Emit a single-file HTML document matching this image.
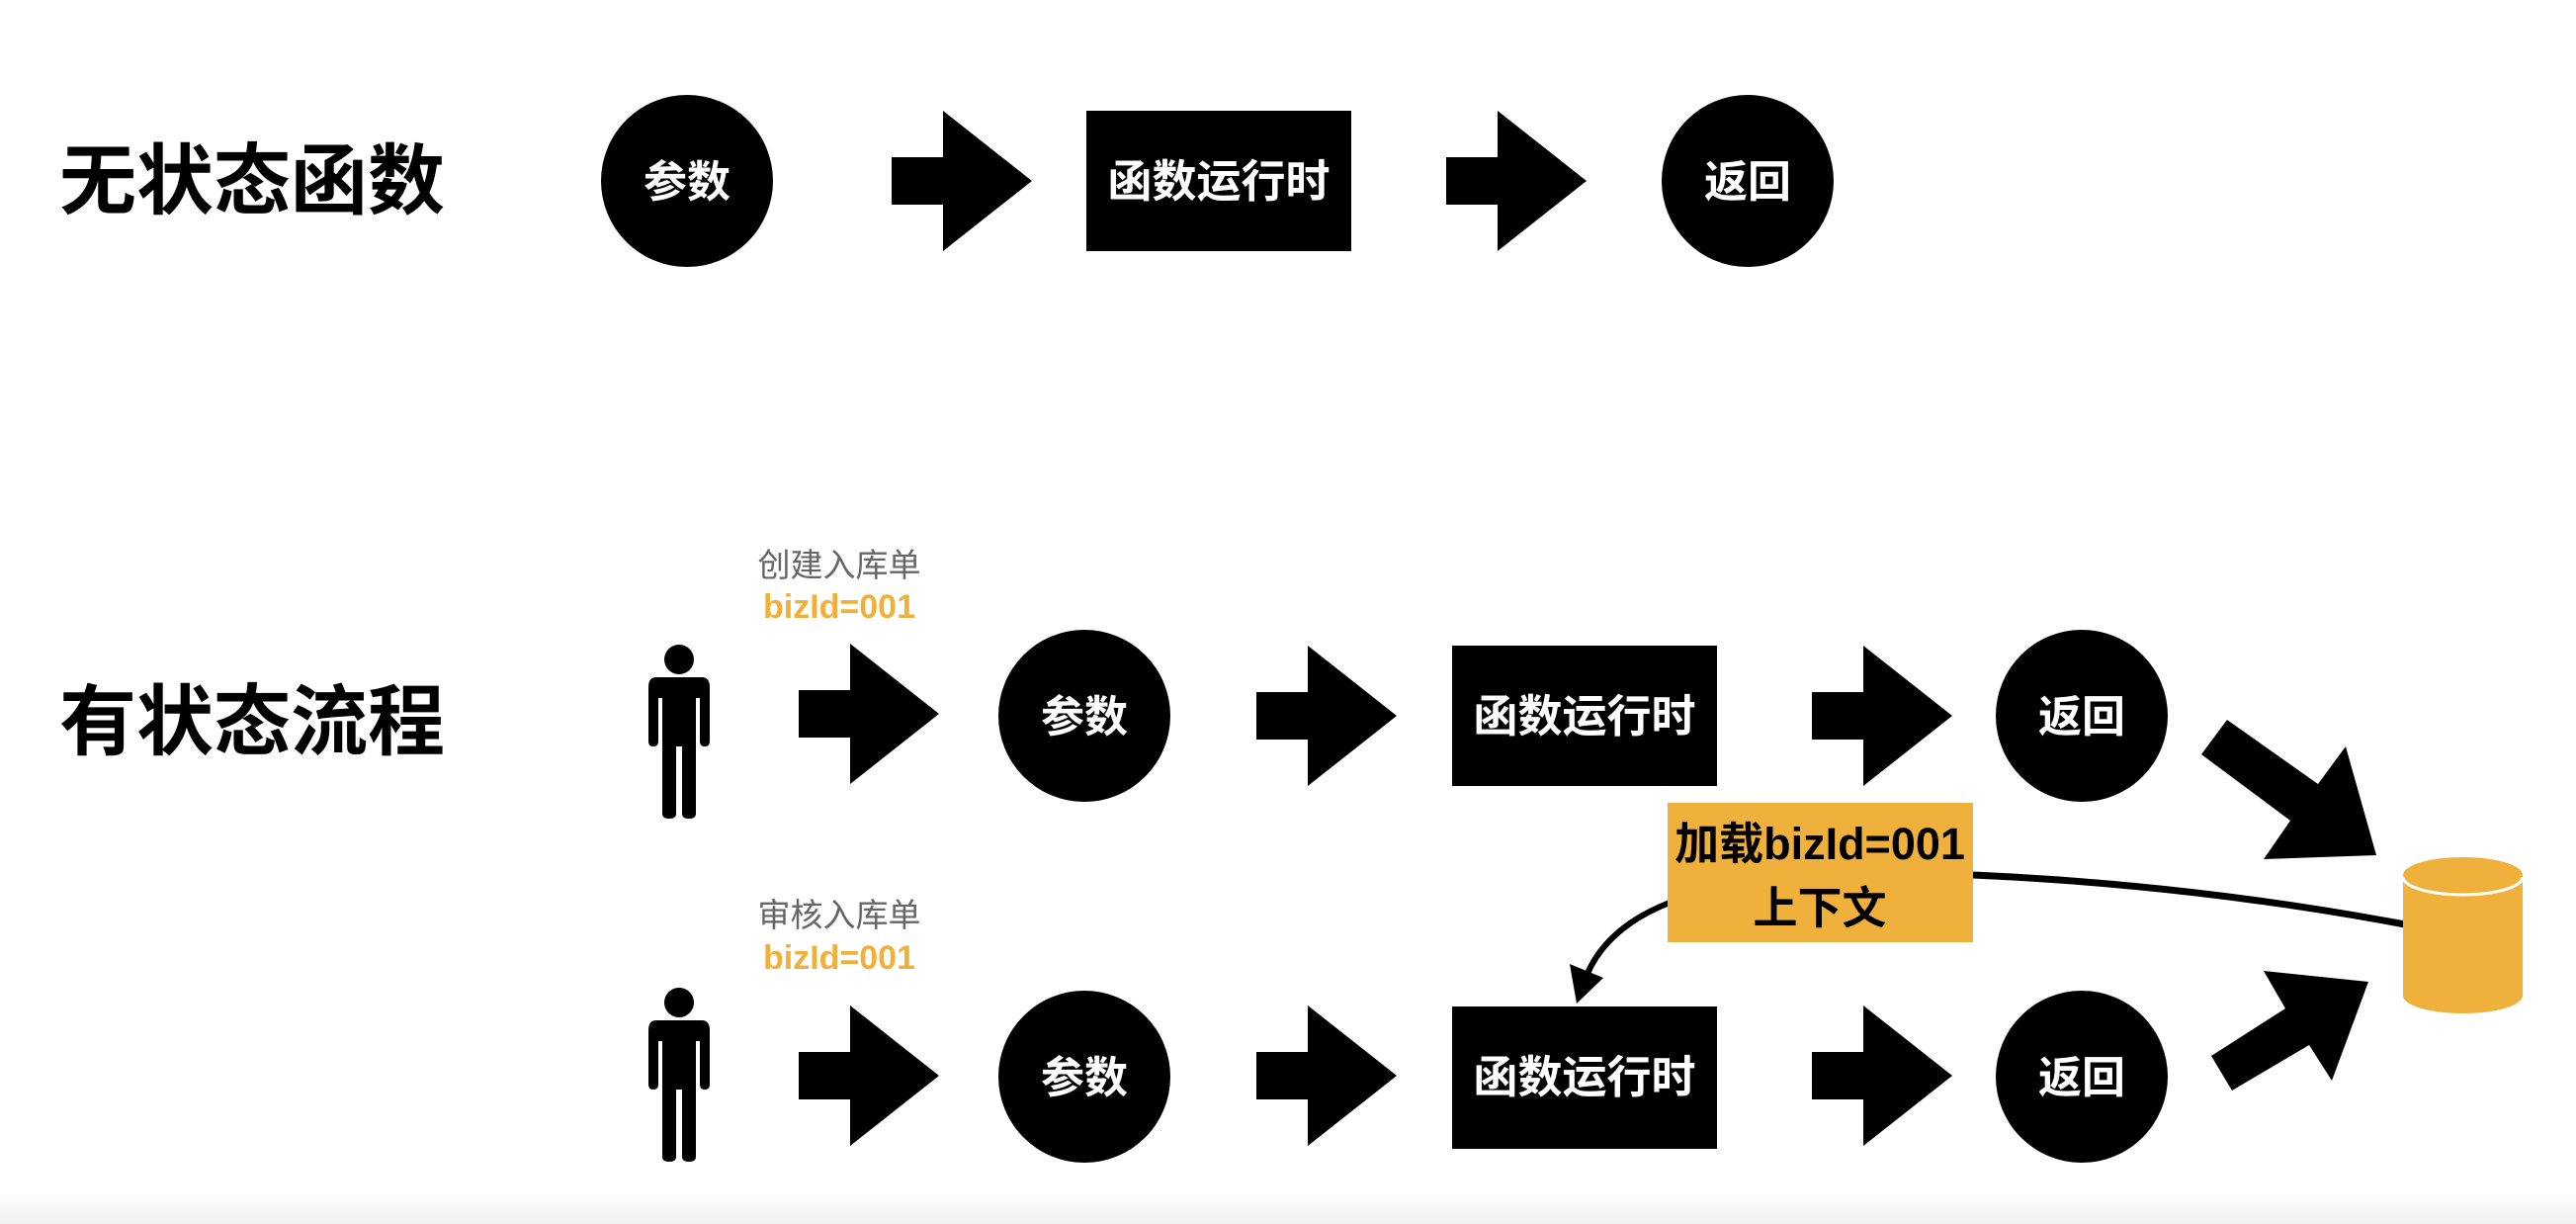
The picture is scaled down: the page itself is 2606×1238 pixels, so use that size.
<!DOCTYPE html>
<html><head><meta charset="utf-8"><style>
html,body{margin:0;padding:0;background:#fff;}
svg{display:block;}
text{font-family:"Liberation Sans","Noto Sans CJK SC",sans-serif;}
</style></head><body>
<svg width="2606" height="1238" viewBox="0 0 2606 1238" xmlns="http://www.w3.org/2000/svg">
<defs>
<linearGradient id="g" x1="0" y1="0" x2="0" y2="1"><stop offset="0" stop-color="#fff"/><stop offset="1" stop-color="#f0f0f0"/></linearGradient>
<g id="arr"><polygon points="0,-24 52,-24 52,-71 142,0 52,71 52,24 0,24" fill="#000"/></g>
<g id="person" fill="#000">
<circle cx="687" cy="669" r="15"/>
<path d="M664,687 H710 Q718,687 718,697 V752 Q718,757 713,757 Q708,757 708,752 V708 H704 V825 Q704,830 697,830 Q690,830 690,825 V757 H684 V825 Q684,830 677,830 Q670,830 670,825 V708 H666 V752 Q666,757 661,757 Q656,757 656,752 V697 Q656,687 664,687 Z"/>
</g>
</defs>
<rect x="0" y="1205" width="2606" height="33" fill="url(#g)"/>

<!-- Row 1 -->
<text x="60" y="210" font-size="78" font-weight="bold" fill="#000">无状态函数</text>
<circle cx="695" cy="183" r="87" fill="#000"/>
<text x="695" y="199" font-size="44" font-weight="bold" fill="#fff" text-anchor="middle">参数</text>
<use href="#arr" x="902" y="183"/>
<rect x="1099" y="112" width="268" height="142" fill="#000"/>
<text x="1233" y="199" font-size="45" font-weight="bold" fill="#fff" text-anchor="middle">函数运行时</text>
<use href="#arr" x="1463" y="183"/>
<circle cx="1768" cy="183" r="87" fill="#000"/>
<text x="1768" y="199" font-size="44" font-weight="bold" fill="#fff" text-anchor="middle">返回</text>

<!-- Row 2 -->
<text x="60" y="757" font-size="78" font-weight="bold" fill="#000">有状态流程</text>
<text x="849" y="583" font-size="33" fill="#666" text-anchor="middle">创建入库单</text>
<text x="849" y="625" font-size="34" font-weight="bold" fill="#F0B13C" text-anchor="middle">bizId=001</text>
<use href="#person" y="-2"/>
<use href="#arr" x="808" y="722"/>
<circle cx="1097" cy="724" r="87" fill="#000"/>
<text x="1097" y="740" font-size="44" font-weight="bold" fill="#fff" text-anchor="middle">参数</text>
<use href="#arr" x="1271" y="724"/>
<rect x="1469" y="653" width="268" height="142" fill="#000"/>
<text x="1603" y="740" font-size="45" font-weight="bold" fill="#fff" text-anchor="middle">函数运行时</text>
<use href="#arr" x="1833" y="724"/>
<circle cx="2106" cy="724" r="87" fill="#000"/>
<text x="2106" y="740" font-size="44" font-weight="bold" fill="#fff" text-anchor="middle">返回</text>

<!-- Row 3 -->
<text x="849" y="937" font-size="33" fill="#666" text-anchor="middle">审核入库单</text>
<text x="849" y="980" font-size="34" font-weight="bold" fill="#F0B13C" text-anchor="middle">bizId=001</text>
<use href="#person" y="345"/>
<use href="#arr" x="808" y="1088"/>
<circle cx="1097" cy="1089" r="87" fill="#000"/>
<text x="1097" y="1105" font-size="44" font-weight="bold" fill="#fff" text-anchor="middle">参数</text>
<use href="#arr" x="1271" y="1088"/>
<rect x="1469" y="1018" width="268" height="144" fill="#000"/>
<text x="1603" y="1105" font-size="45" font-weight="bold" fill="#fff" text-anchor="middle">函数运行时</text>
<use href="#arr" x="1833" y="1088"/>
<circle cx="2106" cy="1089" r="87" fill="#000"/>
<text x="2106" y="1105" font-size="44" font-weight="bold" fill="#fff" text-anchor="middle">返回</text>

<!-- diagonal arrows -->
<polygon points="2253,728 2345,793 2373,755 2404,865 2290,869 2317,830 2227,763" fill="#000"/>
<polygon points="2237,1068 2312,1020 2290,982 2396,993 2359,1093 2336,1057 2258,1103" fill="#000"/>

<!-- connectors -->
<path d="M1996,885 Q2220,895 2433,935" fill="none" stroke="#000" stroke-width="7"/>
<path d="M1689,913 Q1620,940 1602,995" fill="none" stroke="#000" stroke-width="6"/>
<polygon points="1595,1015 1588,975 1622,989" fill="#000"/>

<!-- orange box -->
<rect x="1687" y="812" width="309" height="141" fill="#F0B13C"/>
<text x="1841" y="869" font-size="45" font-weight="bold" fill="#000" text-anchor="middle">加载bizId=001</text>
<text x="1841" y="934" font-size="45" font-weight="bold" fill="#000" text-anchor="middle">上下文</text>

<!-- cylinder -->
<path d="M2431,885 V1007 A60.5,18 0 0 0 2552,1007 V885 Z" fill="#F0B13C"/>
<ellipse cx="2491.5" cy="885" rx="60.5" ry="18" fill="#F0B13C"/>
<path d="M2431,887 A60.5,18 0 0 0 2552,887" fill="none" stroke="#fff" stroke-width="3"/>
</svg>
</body></html>
